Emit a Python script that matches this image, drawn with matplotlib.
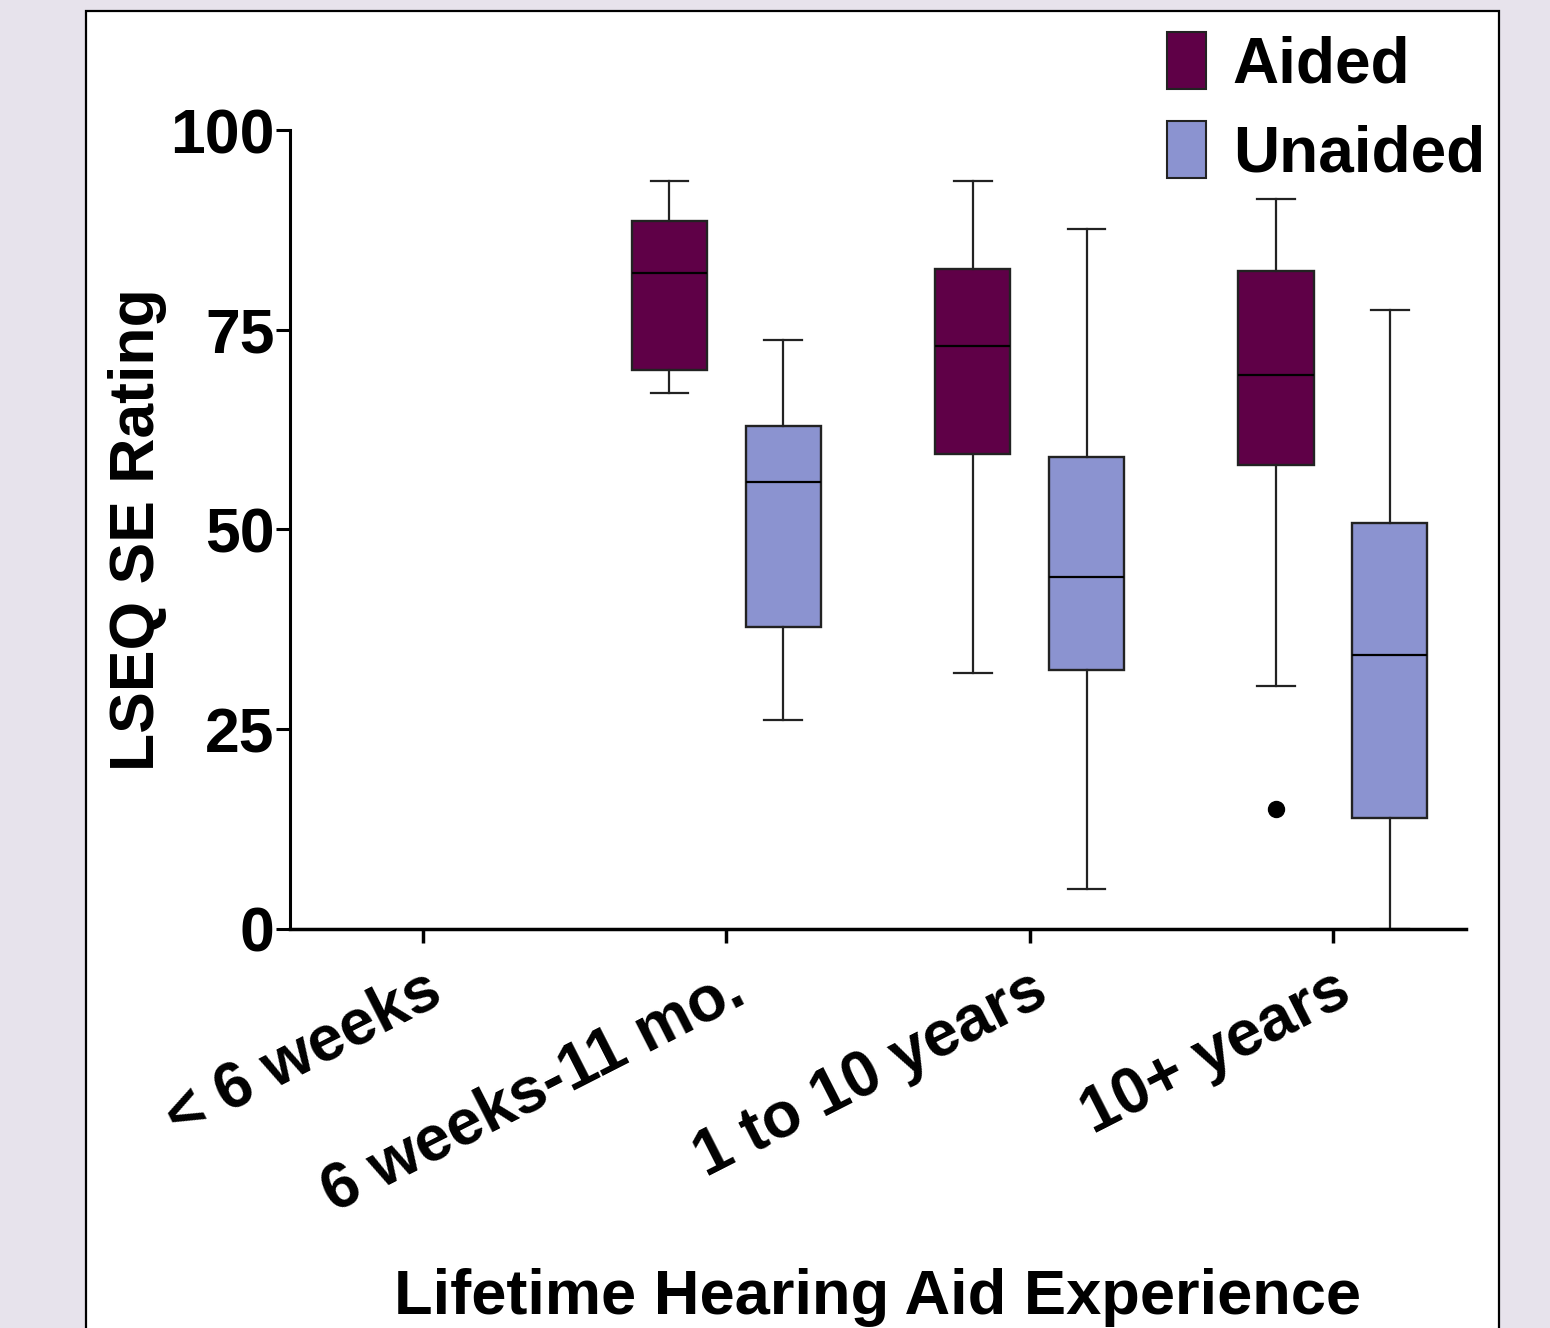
import numpy as np
import matplotlib
matplotlib.use('Agg')
import matplotlib.pyplot as plt
from matplotlib.patches import Patch, Rectangle

plt.rcParams['font.family'] = ['Liberation Sans', 'DejaVu Sans']
plt.rcParams['font.weight'] = 'bold'

categories = ['< 6 weeks', '6 weeks-11 mo.', '1 to 10 years', '10+ years']

# box stats per category (None = no data)
aided_whislo = [None, 67.1, 32.0, 30.4]
aided_q1 = [None, 70.0, 59.4, 58.1]
aided_med = [None, 82.1, 73.0, 69.3]
aided_q3 = [None, 88.6, 82.6, 82.4]
aided_whishi = [None, 93.6, 93.6, 91.4]
aided_fliers = [[], [], [], [15.0]]

unaided_whislo = [None, 26.2, 5.0, 0.0]
unaided_q1 = [None, 37.8, 32.4, 13.9]
unaided_med = [None, 55.9, 44.1, 34.3]
unaided_q3 = [None, 63.0, 59.1, 50.8]
unaided_whishi = [None, 73.7, 87.6, 77.5]
unaided_fliers = [[], [], [], []]

aided_color = '#5f0047'
unaided_color = '#8b93d0'
bg = '#e7e3ec'

def make_stats(lo, q1, med, q3, hi, fl):
    stats, pos = [], []
    for i in range(len(categories)):
        if med[i] is None:
            continue
        stats.append(dict(whislo=lo[i], q1=q1[i], med=med[i], q3=q3[i],
                          whishi=hi[i], fliers=fl[i]))
        pos.append(i)
    return stats, np.array(pos, dtype=float)

fig = plt.figure(figsize=(15.5, 13.28), dpi=100, facecolor=bg)
fig.patches.append(Rectangle((0.0555, -0.01), 0.9115, 1.0017, transform=fig.transFigure,
                             facecolor='white', edgecolor='black', lw=1.6, zorder=-10))
ax = fig.add_axes([0.1871, 0.3005, 0.7587, 0.6016])
ax.set_facecolor('none')

off = 0.188
w = 0.25
for lo, q1, med, q3, hi, fl, color, sign in [
        (aided_whislo, aided_q1, aided_med, aided_q3, aided_whishi, aided_fliers, aided_color, -1),
        (unaided_whislo, unaided_q1, unaided_med, unaided_q3, unaided_whishi, unaided_fliers, unaided_color, 1)]:
    stats, pos = make_stats(lo, q1, med, q3, hi, fl)
    ax.bxp(stats, positions=pos + sign * off, widths=w, patch_artist=True,
           showfliers=True, capwidths=w * 0.5,
           boxprops=dict(facecolor=color, edgecolor='#222222', lw=1.7),
           medianprops=dict(color='black', lw=1.6),
           whiskerprops=dict(color='#222222', lw=1.6),
           capprops=dict(color='#222222', lw=1.6),
           flierprops=dict(marker='o', markerfacecolor='black', markeredgecolor='black',
                           markersize=11.5))

ax.set_xlim(-0.44, 3.44)
ax.set_ylim(0, 100)
ax.set_yticks([0, 25, 50, 75, 100])
ax.set_xticks(range(len(categories)))
ax.set_xticklabels(categories, rotation=27, ha='right', va='top',
                   rotation_mode='anchor', fontsize=46, fontweight='bold')
ax.tick_params(axis='y', labelsize=45, width=2.2, length=10, pad=1)
ax.tick_params(axis='x', width=2.5, length=10, pad=12)
for t in ax.get_yticklabels():
    t.set_fontweight('bold')
for s in ['top', 'right']:
    ax.spines[s].set_visible(False)
ax.spines['left'].set_linewidth(2.2)
ax.spines['bottom'].set_linewidth(2.5)

ax.set_ylabel('LSEQ SE Rating', fontsize=45, fontweight='bold', labelpad=2)
ax.set_xlabel('Lifetime Hearing Aid Experience', fontsize=45.5, fontweight='bold')
ax.xaxis.set_label_coords(0.5, -0.424)

handles = [Patch(facecolor=aided_color, edgecolor='#222222', lw=1.5, label='Aided'),
           Patch(facecolor=unaided_color, edgecolor='#222222', lw=1.5, label='Unaided')]
fig.legend(handles=handles, loc='upper right', bbox_to_anchor=(0.958, 0.976),
           frameon=False, prop=dict(size=46, weight='bold'),
           handlelength=0.6, handleheight=1.0, handletextpad=0.42,
           labelspacing=0.4, borderaxespad=0, borderpad=0)

fig.savefig('out.png', dpi=100, facecolor=bg)
